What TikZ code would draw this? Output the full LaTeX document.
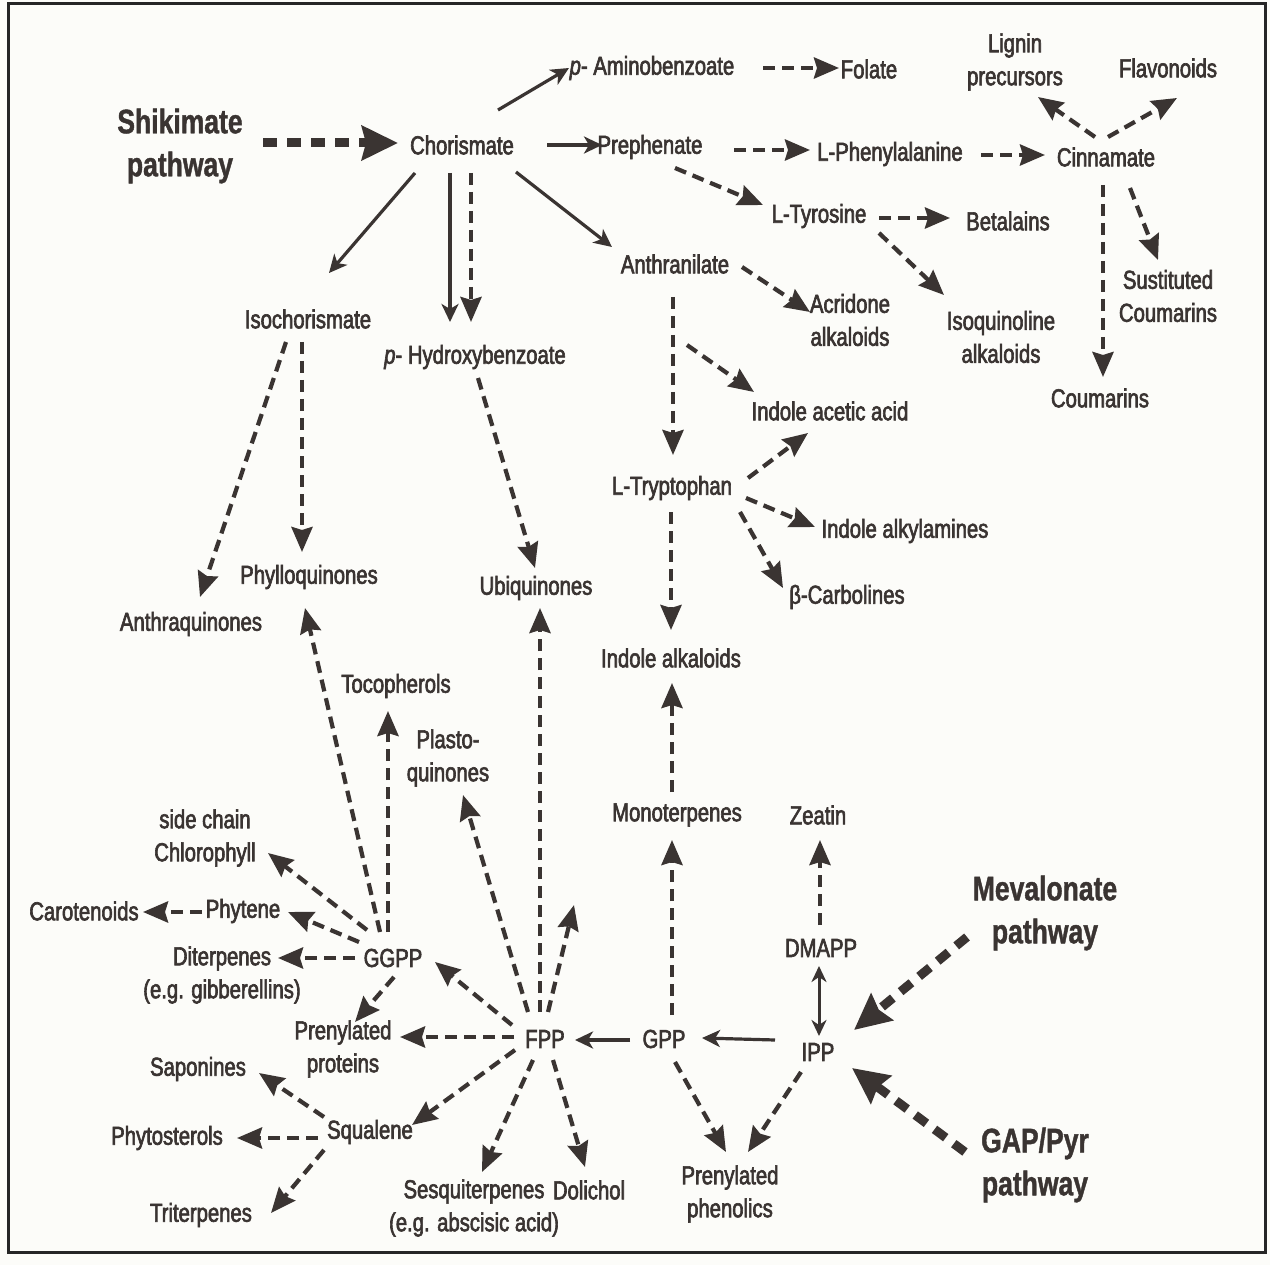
\documentclass[tikz,border=0pt]{standalone}
\usepackage{fontspec}
\setmainfont{Liberation Sans}[FakeStretch=0.78,FakeBold=2.4]
\newfontfamily\pathfont{Liberation Sans}[FakeStretch=0.78,FakeBold=1.2]
\usetikzlibrary{arrows.meta}
\definecolor{ink}{RGB}{58,52,50}
\definecolor{paper}{RGB}{252,252,249}
\begin{document}
\begin{tikzpicture}[x=1pt,y=-1pt,
  lab/.style={inner sep=0pt, align=center, text=ink, font=\fontsize{26}{33}\selectfont},
  pw/.style={inner sep=0pt, align=center, text=ink, font=\pathfont\bfseries\fontsize{34}{43}\selectfont},
  sol/.style={draw=ink, line width=3.2pt, -{Stealth[length=18pt,width=17pt,inset=5pt]}},
  dsol/.style={draw=ink, line width=3pt, {Stealth[length=16pt,width=15pt,inset=5pt]}-{Stealth[length=16pt,width=15pt,inset=5pt]}},
  das/.style={draw=ink, line width=4.2pt, dash pattern=on 12pt off 7pt, -{Stealth[length=25pt,width=21pt,inset=3pt]}},
  thk/.style={draw=ink, line width=9pt, dash pattern=on 14pt off 10pt, -{Stealth[length=36pt,width=34pt,inset=4pt]}}]
\fill[paper] (0,0) rectangle (1270,1265);
\useasboundingbox (0,0) rectangle (1270,1265);
\draw[line width=3pt, color=black!85] (8,4) rectangle (1265,1252);

% nodes
\node[pw]  (shik)   at (180,146)  {Shikimate\\pathway};
\node[lab] (chor)   at (462,145)  {Chorismate};
\node[lab] (pamino) at (652,68)   {\textit{p}- Aminobenzoate};
\node[lab] (folate) at (869,69)   {Folate};
\node[lab] (preph)  at (650,147)  {Prephenate};
\node[lab] (phe)    at (890,154)  {L-Phenylalanine};
\node[lab] (cinn)   at (1106,157) {Cinnamate};
\node[lab] (lignin) at (1015,62)  {Lignin\\precursors};
\node[lab] (flav)   at (1168,68)  {Flavonoids};
\node[lab] (tyr)    at (819,216)  {L-Tyrosine};
\node[lab] (beta)   at (1008,221) {Betalains};
\node[lab] (anth)   at (675,264)  {Anthranilate};
\node[lab] (acr)    at (850,320)  {Acridone\\alkaloids};
\node[lab] (isoq)   at (1001,337) {Isoquinoline\\alkaloids};
\node[lab] (subc)   at (1168,296) {Sustituted\\Coumarins};
\node[lab] (coum)   at (1100,398) {Coumarins};
\node[lab] (iso)    at (308,319)  {Isochorismate};
\node[lab] (hyd)    at (475,357)  {\textit{p}- Hydroxybenzoate};
\node[lab] (iaa)    at (830,411)  {Indole acetic acid};
\node[lab] (trp)    at (672,488)  {L-Tryptophan};
\node[lab] (ialk)   at (905,531)  {Indole alkylamines};
\node[lab] (carb)   at (847,597)  {β-Carbolines};
\node[lab] (phyl)   at (309,577)  {Phylloquinones};
\node[lab] (anthq)  at (191,624)  {Anthraquinones};
\node[lab] (ubi)    at (536,588)  {Ubiquinones};
\node[lab] (ialka)  at (671,658)  {Indole alkaloids};
\node[lab] (toc)    at (396,686)  {Tocopherols};
\node[lab] (plast)  at (448,758)  {Plasto-\\quinones};
\node[lab] (mono)   at (677,815)  {Monoterpenes};
\node[lab] (zea)    at (818,815)  {Zeatin};
\node[lab] (chl)    at (205,838)  {side chain\\Chlorophyll};
\node[pw]  (meva)   at (1045,913) {Mevalonate\\pathway};
\node[lab] (carot)  at (84,911)   {Carotenoids};
\node[lab] (phyt)   at (243,911)  {Phytene};
\node[lab] (dmapp)  at (821,948)  {DMAPP};
\node[lab] (dit)    at (222,975)  {Diterpenes\\(e.g. gibberellins)};
\node[lab] (ggpp)   at (393,958)  {GGPP};
\node[lab] (pprot)  at (343,1049) {Prenylated\\proteins};
\node[lab] (fpp)    at (545,1039) {FPP};
\node[lab] (gpp)    at (664,1039) {GPP};
\node[lab] (ipp)    at (818,1052) {IPP};
\node[lab] (sapo)   at (198,1069) {Saponines};
\node[lab] (phyto)  at (167,1138) {Phytosterols};
\node[lab] (squal)  at (370,1132) {Squalene};
\node[pw]  (gap)    at (1035,1165){GAP/Pyr\\pathway};
\node[lab] (trit)   at (201,1215) {Triterpenes};
\node[lab] (sesq)   at (474,1208) {Sesquiterpenes\\(e.g. abscisic acid)};
\node[lab] (doli)   at (589,1190) {Dolichol};
\node[lab] (pphen)  at (730,1194) {Prenylated\\phenolics};
\coordinate (free) at (574,905);

% connectors
\draw[thk] ([shift={(83,-3)}]shik.center) -- ([shift={(-64,-2)}]chor.center);
\draw[sol] ([shift={(36,-35)}]chor.center) -- ([shift={(-83,0)}]pamino.center);
\draw[sol] ([shift={(85,0)}]chor.center) -- ([shift={(-48,-2)}]preph.center);
\draw[sol] ([shift={(54,27)}]chor.center) -- ([shift={(-63,-17)}]anth.center);
\draw[sol] ([shift={(-47,28)}]chor.center) -- ([shift={(21,-46)}]iso.center);
\draw[sol] ([shift={(-12,28)}]chor.center) -- ([shift={(-25,-35)}]hyd.center);
\draw[das] ([shift={(9,28)}]chor.center) -- ([shift={(-4,-35)}]hyd.center);
\draw[das] ([shift={(111,0)}]pamino.center) -- ([shift={(-30,-1)}]folate.center);
\draw[das] ([shift={(84,3)}]preph.center) -- ([shift={(-80,-4)}]phe.center);
\draw[das] ([shift={(91,1)}]phe.center) -- ([shift={(-61,-2)}]cinn.center);
\draw[das] ([shift={(25,21)}]preph.center) -- ([shift={(-56,-11)}]tyr.center);
\draw[das] ([shift={(-11,-20)}]cinn.center) -- ([shift={(23,35)}]lignin.center);
\draw[das] ([shift={(2,-20)}]cinn.center) -- ([shift={(9,30)}]flav.center);
\draw[das] ([shift={(-3,28)}]cinn.center) -- ([shift={(3,-21)}]coum.center);
\draw[das] ([shift={(24,31)}]cinn.center) -- ([shift={(-10,-36)}]subc.center);
\draw[das] ([shift={(60,2)}]tyr.center) -- ([shift={(-58,-3)}]beta.center);
\draw[das] ([shift={(60,17)}]tyr.center) -- ([shift={(-57,-42)}]isoq.center);
\draw[das] ([shift={(67,3)}]anth.center) -- ([shift={(-40,-8)}]acr.center);
\draw[das] ([shift={(-2,33)}]anth.center) -- ([shift={(1,-33)}]trp.center);
\draw[das] ([shift={(12,81)}]anth.center) -- ([shift={(-76,-19)}]iaa.center);
\draw[das] ([shift={(76,-10)}]trp.center) -- ([shift={(-22,22)}]iaa.center);
\draw[das] ([shift={(74,10)}]trp.center) -- ([shift={(-90,-4)}]ialk.center);
\draw[das] ([shift={(68,24)}]trp.center) -- ([shift={(-64,-9)}]carb.center);
\draw[das] ([shift={(-1,24)}]trp.center) -- ([shift={(0,-28)}]ialka.center);
\draw[das] ([shift={(-22,23)}]iso.center) -- ([shift={(9,-27)}]anthq.center);
\draw[das] ([shift={(-6,23)}]iso.center) -- ([shift={(-7,-25)}]phyl.center);
\draw[das] ([shift={(3,21)}]hyd.center) -- ([shift={(-1,-20)}]ubi.center);
\draw[das] ([shift={(-13,-26)}]ggpp.center) -- ([shift={(-4,31)}]phyl.center);
\draw[das] ([shift={(-5,-26)}]ggpp.center) -- ([shift={(-8,25)}]toc.center);
\draw[das] ([shift={(-17,-27)}]fpp.center) -- ([shift={(15,37)}]plast.center);
\draw[das] ([shift={(-5,-27)}]fpp.center) -- ([shift={(4,20)}]ubi.center);
\draw[das] ([shift={(3,-27)}]fpp.center) -- (free);
\draw[das] ([shift={(-33,-14)}]fpp.center) -- ([shift={(42,4)}]ggpp.center);
\draw[das] ([shift={(-31,-2)}]fpp.center) -- ([shift={(57,-12)}]pprot.center);
\draw[das] ([shift={(-30,11)}]fpp.center) -- ([shift={(42,-7)}]squal.center);
\draw[das] ([shift={(-12,21)}]fpp.center) -- ([shift={(8,-36)}]sesq.center);
\draw[das] ([shift={(8,21)}]fpp.center) -- ([shift={(-4,-23)}]doli.center);
\draw[sol] ([shift={(-34,1)}]gpp.center) -- ([shift={(30,1)}]fpp.center);
\draw[das] ([shift={(8,-24)}]gpp.center) -- ([shift={(-5,25)}]mono.center);
\draw[das] ([shift={(-5,-23)}]mono.center) -- ([shift={(1,25)}]ialka.center);
\draw[das] ([shift={(11,23)}]gpp.center) -- ([shift={(-4,-42)}]pphen.center);
\draw[sol] ([shift={(-43,-12)}]ipp.center) -- ([shift={(38,-1)}]gpp.center);
\draw[dsol] ([shift={(1,-16)}]ipp.center) -- ([shift={(-2,18)}]dmapp.center);
\draw[das] ([shift={(-1,-23)}]dmapp.center) -- ([shift={(2,25)}]zea.center);
\draw[das] ([shift={(-17,20)}]ipp.center) -- ([shift={(18,-42)}]pphen.center);
\draw[thk] ([shift={(-78,24)}]meva.center) -- ([shift={(36,-22)}]ipp.center);
\draw[thk] ([shift={(-70,-13)}]gap.center) -- ([shift={(34,16)}]ipp.center);
\draw[das] ([shift={(-26,-28)}]ggpp.center) -- ([shift={(63,15)}]chl.center);
\draw[das] ([shift={(-34,-16)}]ggpp.center) -- ([shift={(45,1)}]phyt.center);
\draw[das] ([shift={(-41,1)}]phyt.center) -- ([shift={(59,1)}]carot.center);
\draw[das] ([shift={(-38,0)}]ggpp.center) -- ([shift={(56,-17)}]dit.center);
\draw[das] ([shift={(1,19)}]ggpp.center) -- ([shift={(12,-27)}]pprot.center);
\draw[das] ([shift={(-46,-15)}]squal.center) -- ([shift={(61,4)}]sapo.center);
\draw[das] ([shift={(-52,6)}]squal.center) -- ([shift={(70,0)}]phyto.center);
\draw[das] ([shift={(-46,18)}]squal.center) -- ([shift={(70,-2)}]trit.center);
\end{tikzpicture}
\end{document}
